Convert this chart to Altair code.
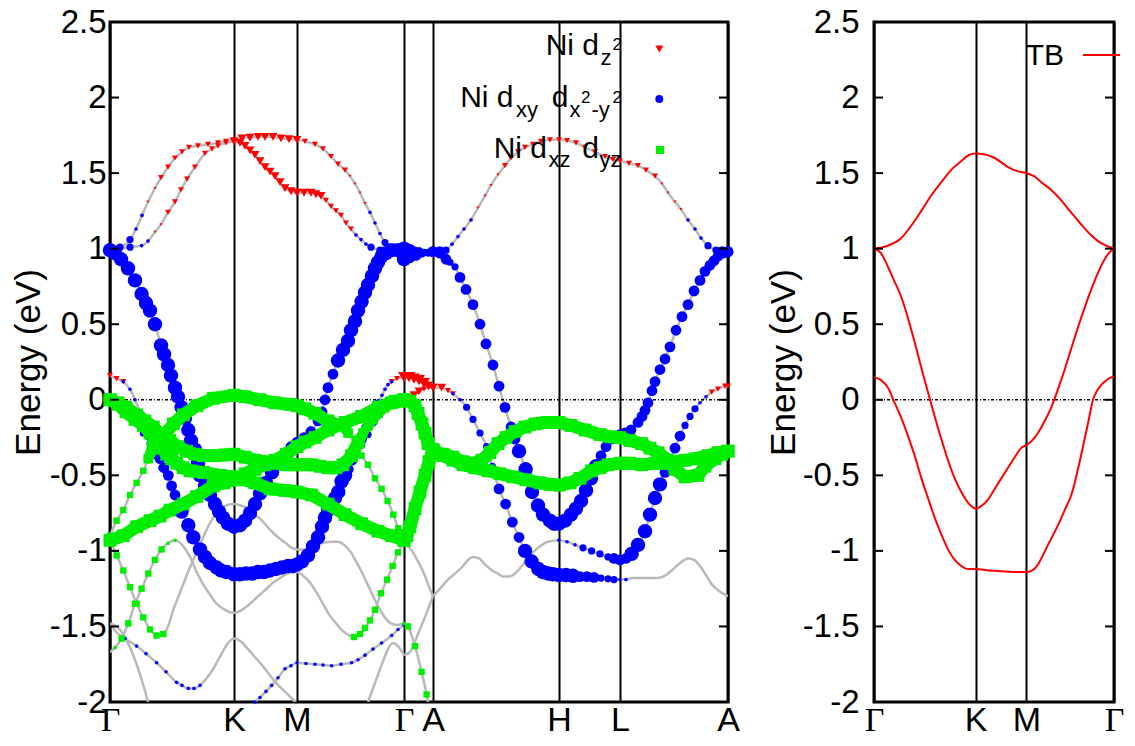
import altair as alt
import pandas as pd

# ---------------- k-path (left: DFT fat bands, right: TB) ----------------
KPATH_LEFT = [0, 124, 187, 294, 323, 449, 510, 618]
KLAB_LEFT = ['Γ', 'K', 'M', 'Γ', 'A', 'H', 'L', 'A']
KPATH_RIGHT = [0, 101.7, 152.4, 240]
KLAB_RIGHT = ['Γ', 'K', 'M', 'Γ']
YTICKS = [-2, -1.5, -1, -0.5, 0, 0.5, 1, 1.5, 2, 2.5]

# ---------------- DFT bands: (k, E, w_dz2, w_dxy, w_dxz/yz) ----------------
U1 = [(0, 1.00, 0, 2, 0), (10, 1.01, 0, 2, 0), (20, 1.06, 0, 2, 0), (26, 1.13, 0, 1, 0), (32, 1.22, 1, 1, 0),
      (38, 1.31, 1, 0, 0), (45, 1.40, 1, 0, 0), (51, 1.47, 2, 0, 0), (58, 1.54, 2, 0, 0), (65, 1.60, 2, 0, 0),
      (72, 1.64, 2, 0, 0), (79, 1.67, 2, 0, 0), (88, 1.68, 2, 0, 0), (98, 1.69, 2, 0, 0), (108, 1.70, 2, 0, 0),
      (116, 1.71, 2, 0, 0), (124, 1.72, 2, 0, 0), (132, 1.73, 3, 0, 0), (140, 1.735, 3, 0, 0), (148, 1.74, 3, 0, 0),
      (155, 1.74, 3, 0, 0), (163, 1.74, 3, 0, 0), (171, 1.73, 3, 0, 0), (179, 1.725, 3, 0, 0), (187, 1.72, 3, 0, 0),
      (195, 1.71, 2, 0, 0), (205, 1.69, 2, 0, 0), (213, 1.66, 2, 0, 0), (221, 1.61, 2, 0, 0), (228, 1.56, 2, 0, 0),
      (235, 1.52, 2, 0, 0), (240, 1.48, 1, 0, 0), (245, 1.43, 1, 0, 0), (250, 1.37, 1, 0, 0), (255, 1.30, 1, 0, 0),
      (260, 1.24, 0, 1, 0), (265, 1.17, 0, 1, 0), (270, 1.10, 0, 1, 0), (275, 1.04, 0, 2, 0), (285, 0.99, 0, 2, 0),
      (294, 0.99, 0, 3, 0)]
U2 = [(0, 1.00, 0, 3, 0), (8, 1.00, 0, 2, 0), (20, 1.01, 0, 2, 0), (31.6, 1.02, 0, 1, 0), (38, 1.05, 1, 1, 0),
      (45, 1.11, 1, 0, 0), (51, 1.16, 1, 0, 0), (58, 1.24, 2, 0, 0), (65, 1.31, 2, 0, 0), (71, 1.39, 2, 0, 0),
      (77, 1.46, 2, 0, 0), (85, 1.54, 2, 0, 0), (95, 1.63, 2, 0, 0), (102, 1.66, 2, 0, 0), (108, 1.68, 2, 0, 0),
      (116, 1.70, 2, 0, 0), (124, 1.71, 3, 0, 0), (130, 1.70, 3, 0, 0), (135, 1.68, 3, 0, 0), (140, 1.65, 3, 0, 0),
      (145, 1.62, 3, 0, 0), (150, 1.58, 3, 0, 0), (155, 1.54, 3, 0, 0), (160, 1.51, 3, 0, 0), (165, 1.48, 3, 0, 0),
      (170, 1.44, 3, 0, 0), (175, 1.40, 3, 0, 0), (181, 1.38, 3, 0, 0), (187, 1.37, 3, 0, 0), (194, 1.37, 3, 0, 0),
      (201, 1.37, 3, 0, 0), (206, 1.36, 3, 0, 0), (211, 1.35, 3, 0, 0), (216, 1.32, 2, 0, 0), (221, 1.28, 2, 0, 0),
      (226, 1.25, 2, 0, 0), (231, 1.22, 2, 0, 0), (236, 1.17, 2, 0, 0), (241, 1.13, 2, 0, 0), (246, 1.09, 1, 1, 0),
      (251, 1.06, 1, 1, 0), (256, 1.03, 0, 1, 0), (261, 1.01, 0, 2, 0), (270, 0.99, 0, 2, 0), (280, 0.98, 0, 3, 0),
      (294, 0.97, 0, 4, 0)]
BC = [(0, 0.99, 0, 4, 0), (5, 0.97, 0, 4, 0), (11, 0.93, 0, 4, 0), (18, 0.87, 0, 4, 0), (25, 0.79, 0, 4, 0),
      (31.6, 0.70, 0, 4, 0), (36, 0.64, 0, 4, 0), (40, 0.59, 0, 4, 0), (45, 0.50, 0, 4, 0), (51, 0.36, 0, 4, 0),
      (54, 0.30, 0, 4, 0), (58, 0.23, 0, 4, 0), (61, 0.16, 0, 4, 0), (65, 0.08, 0, 4, 0), (68, 0.02, 0, 4, 0),
      (71.6, -0.05, 0, 4, 0), (75, -0.12, 0, 4, 0), (78.3, -0.20, 0, 4, 0), (81, -0.27, 0, 4, 0), (85, -0.33, 0, 4, 0),
      (88, -0.42, 0, 4, 0), (90, -0.50, 0, 4, 0), (95, -0.57, 0, 4, 0), (100, -0.63, 0, 4, 0), (105, -0.69, 0, 4, 0),
      (109, -0.74, 0, 4, 0), (113, -0.78, 0, 4, 0), (118, -0.82, 0, 4, 0), (124, -0.84, 0, 4, 0), (130, -0.83, 0, 4, 0),
      (135, -0.80, 0, 4, 0), (140, -0.75, 0, 4, 0), (145, -0.69, 0, 4, 0), (150, -0.62, 0, 4, 0), (156, -0.55, 0, 4, 0),
      (162, -0.48, 0, 4, 0), (168, -0.41, 0, 4, 0), (175, -0.35, 0, 3, 0), (181, -0.31, 0, 3, 0), (187, -0.28, 0, 3, 0),
      (194, -0.25, 0, 3, 0), (201, -0.21, 0, 3, 0), (208, -0.14, 0, 3, 0), (212, -0.08, 0, 3, 0), (215, 0.00, 0, 3, 0),
      (218, 0.08, 0, 3, 0), (223, 0.17, 0, 3, 0), (228, 0.26, 0, 4, 0), (233, 0.33, 0, 4, 0), (238, 0.39, 0, 4, 0),
      (241, 0.46, 0, 4, 0), (245, 0.52, 0, 4, 0), (248, 0.59, 0, 4, 0), (251.6, 0.65, 0, 4, 0), (255, 0.71, 0, 4, 0),
      (258, 0.76, 0, 4, 0), (262, 0.82, 0, 4, 0), (265, 0.87, 0, 4, 0), (268, 0.91, 0, 4, 0), (271.6, 0.95, 0, 4, 0),
      (276, 0.97, 0, 4, 0), (281.6, 0.99, 0, 4, 0), (288, 0.99, 0, 4, 0), (294, 1.00, 0, 4, 0)]
BD = [(0, 0.16, 2, 0, 0), (6.6, 0.14, 2, 0, 0), (13.3, 0.12, 2, 1, 0), (20, 0.07, 1, 1, 0), (25, 0.00, 0, 1, 0),
      (31.6, -0.10, 0, 2, 0), (36.6, -0.17, 0, 2, 0), (40, -0.24, 0, 3, 0), (45, -0.31, 0, 3, 0), (50, -0.39, 0, 3, 0),
      (54, -0.45, 0, 3, 0), (58.3, -0.50, 0, 3, 0), (61.6, -0.57, 0, 3, 0), (65, -0.63, 0, 3, 0), (71.6, -0.74, 0, 4, 0),
      (78.3, -0.83, 0, 4, 0), (83.3, -0.91, 0, 4, 0), (90, -0.99, 0, 4, 0), (95, -1.04, 0, 4, 0), (100, -1.08, 0, 4, 0),
      (106.6, -1.11, 0, 4, 0), (111, -1.13, 0, 4, 0), (116.6, -1.14, 0, 4, 0), (124, -1.155, 0, 4, 0),
      (130, -1.155, 0, 4, 0), (136, -1.15, 0, 4, 0), (142, -1.15, 0, 4, 0), (148, -1.14, 0, 4, 0), (154, -1.14, 0, 4, 0),
      (160, -1.13, 0, 4, 0), (166, -1.12, 0, 4, 0), (172, -1.11, 0, 4, 0), (178, -1.10, 0, 4, 0), (183, -1.10, 0, 4, 0),
      (187, -1.09, 0, 4, 0), (192, -1.07, 0, 4, 0), (198, -1.03, 0, 4, 0), (203, -0.97, 0, 4, 0), (208, -0.91, 0, 4, 0),
      (212, -0.84, 0, 4, 0), (215, -0.78, 0, 4, 0), (218, -0.73, 0, 4, 0), (221.6, -0.69, 0, 4, 0), (225, -0.65, 0, 4, 0),
      (228.3, -0.61, 0, 4, 0), (231.6, -0.54, 0, 4, 0), (235, -0.50, 0, 4, 0), (238.3, -0.46, 0, 3, 0),
      (242, -0.40, 0, 3, 0), (245, -0.35, 0, 3, 0), (248, -0.30, 0, 3, 0), (251.6, -0.26, 0, 3, 0), (255, -0.18, 0, 2, 0),
      (258, -0.14, 0, 2, 0), (261.6, -0.11, 0, 2, 0), (265, -0.06, 0, 2, 0), (268.3, -0.02, 0, 2, 0), (272, 0.03, 1, 1, 0),
      (275, 0.07, 1, 1, 0), (278, 0.10, 1, 1, 0), (281.6, 0.12, 2, 1, 0), (287, 0.14, 2, 0, 0), (294, 0.15, 3, 0, 0)]
BDA = [(0, -0.03, 2, 0, 0), (6.6, -0.05, 2, 0, 0), (13.3, -0.07, 2, 0, 0), (20, -0.11, 1, 1, 0), (26.6, -0.16, 0, 1, 0),
       (33.3, -0.22, 0, 2, 0), (40, -0.29, 0, 2, 0), (46, -0.37, 0, 2, 0), (52, -0.45, 0, 2, 0), (58.3, -0.50, 0, 0, 0)]
BDB = [(245, -0.35, 0, 0, 0), (251.6, -0.30, 0, 2, 0), (258, -0.23, 0, 2, 0), (265, -0.16, 0, 1, 0),
       (271, -0.11, 1, 1, 0), (278, -0.07, 2, 0, 0), (285, -0.04, 2, 0, 0), (294, -0.03, 2, 0, 0)]
GC = [(0, -0.90, 0, 0, 2), (6.6, -0.80, 0, 0, 2), (13.3, -0.73, 0, 0, 2), (20, -0.63, 0, 0, 2), (26.6, -0.55, 0, 0, 2),
      (33.3, -0.47, 0, 0, 2), (38.3, -0.39, 0, 0, 3), (43.3, -0.31, 0, 0, 4), (53.3, -0.24, 0, 0, 4),
      (63.3, -0.16, 0, 0, 4), (73.3, -0.10, 0, 0, 4), (86.6, -0.04, 0, 0, 4), (103.3, 0.01, 0, 0, 4),
      (124, 0.03, 0, 0, 4), (135, 0.02, 0, 0, 4), (150, 0.00, 0, 0, 4), (165, -0.02, 0, 0, 4), (180, -0.03, 0, 0, 4),
      (187, -0.04, 0, 0, 4), (195, -0.06, 0, 0, 4), (205, -0.09, 0, 0, 4), (218, -0.14, 0, 0, 4), (231.6, -0.17, 0, 0, 3),
      (238, -0.22, 0, 0, 3), (245, -0.30, 0, 0, 2), (251.6, -0.37, 0, 0, 2), (258, -0.43, 0, 0, 2), (265, -0.52, 0, 0, 2),
      (271.6, -0.59, 0, 0, 2), (277.6, -0.67, 0, 0, 2), (283.3, -0.76, 0, 0, 2), (288.3, -0.85, 0, 0, 2),
      (294, -0.92, 0, 0, 2)]
GA = [(0, 0.00, 0, 0, 4), (8, -0.02, 0, 0, 4), (16, -0.05, 0, 0, 4), (26.6, -0.10, 0, 0, 4), (35, -0.14, 0, 0, 4),
      (43.3, -0.18, 0, 0, 4), (51, -0.23, 0, 0, 4), (60, -0.27, 0, 0, 4), (68, -0.31, 0, 0, 4), (76.6, -0.34, 0, 0, 4),
      (85, -0.36, 0, 0, 4), (93.3, -0.37, 0, 0, 4), (105, -0.37, 0, 0, 4), (115, -0.365, 0, 0, 4), (124, -0.36, 0, 0, 4),
      (135, -0.38, 0, 0, 4), (145, -0.40, 0, 0, 4), (155, -0.41, 0, 0, 4), (165, -0.42, 0, 0, 4), (176, -0.43, 0, 0, 4),
      (187, -0.43, 0, 0, 4), (201.6, -0.43, 0, 0, 4), (210, -0.44, 0, 0, 4), (218, -0.45, 0, 0, 4), (226, -0.45, 0, 0, 4),
      (233, -0.43, 0, 0, 4), (241.6, -0.37, 0, 0, 4), (248.3, -0.28, 0, 0, 4), (253, -0.22, 0, 0, 3),
      (258.3, -0.17, 0, 0, 3), (263, -0.13, 0, 0, 3), (268, -0.09, 0, 0, 3), (275, -0.05, 0, 0, 3),
      (281.6, -0.02, 0, 0, 4), (288, -0.01, 0, 0, 4), (294, 0.00, 0, 0, 4)]
GB = [(0, 0.00, 0, 0, 4), (8, -0.03, 0, 0, 4), (16, -0.08, 0, 0, 4), (25, -0.13, 0, 0, 4), (33.3, -0.17, 0, 0, 4),
      (40, -0.22, 0, 0, 4), (46.6, -0.27, 0, 0, 4), (51.6, -0.32, 0, 0, 4), (56.6, -0.36, 0, 0, 4), (61.6, -0.39, 0, 0, 4),
      (66.6, -0.42, 0, 0, 4), (73.3, -0.45, 0, 0, 4), (80, -0.47, 0, 0, 4), (93.3, -0.48, 0, 0, 4), (110, -0.50, 0, 0, 4),
      (124, -0.51, 0, 0, 4), (135, -0.53, 0, 0, 4), (145, -0.55, 0, 0, 4), (160, -0.59, 0, 0, 4), (175, -0.60, 0, 0, 4),
      (187, -0.61, 0, 0, 4), (201.6, -0.63, 0, 0, 4), (218, -0.69, 0, 0, 4), (235, -0.76, 0, 0, 4),
      (251.6, -0.82, 0, 0, 4), (268, -0.87, 0, 0, 4), (281.6, -0.90, 0, 0, 4), (294, -0.93, 0, 0, 4)]
GD = [(0, -0.93, 0, 0, 4), (13.3, -0.90, 0, 0, 4), (26.6, -0.84, 0, 0, 4), (40, -0.80, 0, 0, 4), (50, -0.77, 0, 0, 4),
      (60, -0.73, 0, 0, 4), (73.3, -0.69, 0, 0, 4), (86.6, -0.64, 0, 0, 4), (103.3, -0.57, 0, 0, 4),
      (114, -0.55, 0, 0, 4), (124, -0.53, 0, 0, 4), (135, -0.49, 0, 0, 4), (145, -0.46, 0, 0, 4), (155, -0.43, 0, 0, 4),
      (165, -0.40, 0, 0, 4), (176.6, -0.36, 0, 0, 4), (187, -0.31, 0, 0, 4), (195, -0.28, 0, 0, 4), (205, -0.25, 0, 0, 4),
      (218, -0.20, 0, 0, 4), (235, -0.15, 0, 0, 4), (251.6, -0.11, 0, 0, 4), (268.3, -0.05, 0, 0, 4),
      (285, -0.01, 0, 0, 4), (294, 0.00, 0, 0, 4)]
LB1 = [(0, -0.93, 0, 0, 0), (6.6, -1.03, 0, 0, 2), (13.3, -1.13, 0, 0, 2), (20, -1.24, 0, 0, 2), (26.6, -1.35, 0, 0, 2),
       (33.3, -1.44, 0, 0, 2), (40, -1.52, 0, 0, 2), (46.6, -1.56, 0, 0, 2), (53.3, -1.55, 0, 0, 2), (58, -1.50, 0, 0, 0),
       (63.3, -1.39, 0, 0, 0), (68, -1.31, 0, 0, 0), (73.3, -1.22, 0, 0, 0), (78, -1.14, 0, 0, 0), (83.3, -1.06, 0, 0, 0),
       (88, -0.98, 0, 0, 0), (93.3, -0.91, 0, 0, 0), (98, -0.84, 0, 0, 0), (103.3, -0.78, 0, 0, 0), (108, -0.74, 0, 0, 0),
       (113.3, -0.71, 0, 0, 0), (118, -0.695, 0, 0, 0), (124, -0.69, 0, 0, 0), (131, -0.70, 0, 0, 0),
       (138, -0.72, 0, 0, 0), (145, -0.76, 0, 0, 0), (152, -0.80, 0, 0, 0), (160, -0.86, 0, 0, 0), (168, -0.91, 0, 0, 0),
       (176, -0.95, 0, 0, 0), (182, -0.98, 0, 0, 0), (187, -0.99, 0, 0, 0), (194, -0.99, 0, 0, 0), (201, -0.98, 0, 0, 0),
       (208, -0.96, 0, 0, 0), (215, -0.945, 0, 0, 0), (222, -0.94, 0, 0, 0), (228, -0.94, 0, 0, 0), (234, -0.96, 0, 0, 0),
       (241, -1.01, 0, 0, 0), (246, -1.07, 0, 0, 0), (251, -1.13, 0, 0, 0), (256, -1.20, 0, 0, 0), (261, -1.27, 0, 0, 0),
       (266, -1.34, 0, 0, 0), (271, -1.40, 0, 0, 0), (276, -1.45, 0, 0, 0), (281, -1.48, 0, 0, 0), (287, -1.49, 0, 0, 0),
       (294, -1.48, 0, 0, 0)]
LB2 = [(0, -1.67, 0, 0, 0), (5, -1.64, 0, 0, 1), (11.6, -1.58, 0, 0, 2), (18.3, -1.48, 0, 0, 2), (25, -1.35, 0, 0, 2),
       (31.6, -1.25, 0, 0, 2), (38.3, -1.15, 0, 0, 2), (45, -1.06, 0, 0, 2), (51.6, -0.99, 0, 0, 2), (58, -0.95, 0, 0, 1),
       (65, -0.93, 0, 0, 1), (72, -0.96, 0, 0, 0), (80, -1.04, 0, 0, 0), (86, -1.13, 0, 0, 0), (93, -1.22, 0, 0, 0),
       (100, -1.29, 0, 0, 0), (106.6, -1.35, 0, 0, 0), (115, -1.39, 0, 0, 0), (124, -1.41, 0, 0, 0),
       (132, -1.39, 0, 0, 0), (140, -1.35, 0, 0, 0), (148, -1.30, 0, 0, 0), (155, -1.26, 0, 0, 0), (163, -1.21, 0, 0, 0),
       (170, -1.18, 0, 0, 0), (178, -1.15, 0, 0, 0), (187, -1.14, 0, 0, 0), (194, -1.17, 0, 0, 0), (200, -1.21, 0, 0, 0),
       (206, -1.27, 0, 0, 0), (213, -1.35, 0, 0, 0), (219, -1.42, 0, 0, 0), (225, -1.47, 0, 0, 0), (231, -1.52, 0, 0, 0),
       (237, -1.55, 0, 0, 0), (244, -1.57, 0, 0, 2), (250, -1.55, 0, 0, 2), (255, -1.51, 0, 0, 2), (260, -1.46, 0, 0, 2),
       (265, -1.39, 0, 0, 2), (271, -1.28, 0, 0, 2), (277, -1.19, 0, 0, 2), (282.6, -1.10, 0, 0, 2),
       (288, -1.01, 0, 0, 2), (294, -0.95, 0, 0, 2)]
LB3 = [(145, -2.0, 0, 1, 0), (150, -1.97, 0, 1, 0), (156, -1.93, 0, 1, 0), (161.6, -1.89, 0, 1, 0),
       (168, -1.84, 0, 1, 0), (175, -1.78, 0, 1, 0), (181, -1.76, 0, 1, 0), (187, -1.74, 0, 1, 0), (196, -1.745, 0, 1, 0),
       (205, -1.75, 0, 1, 0), (213, -1.755, 0, 1, 0), (221.6, -1.76, 0, 1, 0), (231, -1.75, 0, 1, 0),
       (241.6, -1.74, 0, 1, 0), (248, -1.72, 0, 1, 0), (255, -1.69, 0, 1, 0), (263, -1.65, 0, 1, 0),
       (271.6, -1.61, 0, 1, 0), (281.6, -1.56, 0, 1, 0), (288, -1.52, 0, 1, 0), (294, -1.49, 0, 1, 0)]
LB4 = [(0, -1.48, 0, 0, 0), (6.6, -1.54, 0, 0, 0), (15, -1.58, 0, 1, 0), (26.6, -1.63, 0, 1, 0), (36, -1.68, 0, 1, 0),
       (46.6, -1.74, 0, 1, 0), (56, -1.80, 0, 1, 0), (66.6, -1.87, 0, 1, 0), (72, -1.89, 0, 1, 0), (78.3, -1.91, 0, 1, 0),
       (84, -1.91, 0, 1, 0), (90, -1.89, 0, 1, 0), (97, -1.84, 0, 0, 0), (103.3, -1.78, 0, 0, 0), (110, -1.70, 0, 0, 0),
       (118, -1.61, 0, 0, 0), (124, -1.58, 0, 0, 0), (131, -1.60, 0, 0, 0), (138, -1.65, 0, 0, 0), (146, -1.71, 0, 0, 0),
       (155, -1.78, 0, 0, 0), (163, -1.85, 0, 0, 0), (171.6, -1.91, 0, 0, 0), (178, -1.95, 0, 0, 0),
       (184, -1.99, 0, 0, 0), (186, -2.0, 0, 0, 0)]
LB5 = [(0, -1.48, 0, 0, 0), (6.6, -1.50, 0, 0, 0), (13, -1.55, 0, 0, 0), (20, -1.64, 0, 0, 0), (26.6, -1.75, 0, 0, 0),
       (32, -1.86, 0, 0, 0), (36, -1.95, 0, 0, 0), (38, -2.0, 0, 0, 0)]
LB7 = [(258, -2.0, 0, 0, 0), (263, -1.91, 0, 0, 0), (268, -1.82, 0, 0, 0), (273, -1.73, 0, 0, 0), (278, -1.65, 0, 0, 0),
       (283, -1.61, 0, 0, 0), (288, -1.63, 0, 0, 0), (294, -1.69, 0, 0, 0)]
# Gamma - A
GA1 = [(294, 0.15, 4, 0, 0), (299, 0.15, 4, 0, 0), (304, 0.14, 4, 0, 0), (309, 0.13, 4, 0, 0), (314, 0.11, 4, 0, 0),
       (318.5, 0.095, 3, 0, 0), (323, 0.08, 3, 0, 0)]
GA2 = [(294, -0.03, 3, 0, 0), (299, 0.00, 3, 0, 0), (304, 0.03, 3, 0, 0), (309, 0.055, 3, 0, 0), (314, 0.07, 2, 0, 0),
       (318.5, 0.08, 2, 0, 0), (323, 0.08, 2, 0, 0)]
GA3 = [(294, 0.00, 0, 0, 4), (300, -0.01, 0, 0, 4), (305, -0.04, 0, 0, 4), (308, -0.09, 0, 0, 4), (312, -0.16, 0, 0, 4),
       (315, -0.22, 0, 0, 4), (318, -0.29, 0, 0, 4), (323, -0.33, 0, 0, 4)]
GA4 = [(294, -0.93, 0, 0, 4), (297, -0.90, 0, 0, 4), (300, -0.84, 0, 0, 4), (305, -0.72, 0, 0, 4), (310, -0.61, 0, 0, 4),
       (315, -0.50, 0, 0, 4), (319, -0.41, 0, 0, 4), (323, -0.33, 0, 0, 4)]
GA5 = [(294, 0.99, 0, 4, 0), (299, 0.985, 0, 4, 0), (304, 0.98, 0, 3, 0), (309, 0.975, 0, 3, 0), (314, 0.975, 0, 2, 0),
       (318.5, 0.975, 0, 2, 0), (323, 0.975, 0, 2, 0)]
GA5B = [(294, 0.93, 0, 4, 0), (300, 0.94, 0, 3, 0), (306, 0.955, 0, 3, 0), (312, 0.965, 0, 2, 0), (318, 0.97, 0, 2, 0),
        (323, 0.975, 0, 2, 0)]
GA6 = [(294, -0.95, 0, 0, 0), (302, -1.00, 0, 0, 0), (308, -1.07, 0, 0, 0), (314, -1.15, 0, 0, 0),
       (318, -1.22, 0, 0, 0), (323, -1.30, 0, 0, 0)]
GA7 = [(294, -1.48, 0, 0, 1), (298, -1.50, 0, 0, 2), (305, -1.63, 0, 0, 2), (311.6, -1.80, 0, 0, 2),
       (316.6, -1.95, 0, 0, 2), (318, -2.0, 0, 0, 0)]
GA8 = [(294, -1.69, 0, 0, 0), (300, -1.67, 0, 0, 0), (308, -1.55, 0, 0, 0), (316, -1.42, 0, 0, 0), (323, -1.30, 0, 0, 0)]
# A - H - L - A
UA = [(323, 0.98, 0, 3, 0), (330, 0.98, 0, 3, 0), (336, 0.99, 0, 2, 0), (342, 1.03, 0, 1, 0), (348, 1.08, 0, 1, 0),
      (354, 1.13, 0, 1, 0), (361, 1.19, 1, 1, 0), (368, 1.27, 1, 0, 0), (375, 1.35, 1, 0, 0), (381, 1.42, 1, 0, 0),
      (388, 1.49, 1, 0, 0), (395, 1.55, 2, 0, 0), (401, 1.60, 2, 0, 0), (408, 1.64, 2, 0, 0), (415, 1.67, 2, 0, 0),
      (423, 1.69, 2, 0, 0), (431, 1.71, 2, 0, 0), (440, 1.72, 2, 0, 0), (449, 1.72, 2, 0, 0), (457, 1.715, 2, 0, 0),
      (466, 1.70, 2, 0, 0), (475, 1.67, 2, 0, 0), (485, 1.64, 2, 0, 0), (495, 1.61, 2, 0, 0), (503, 1.59, 2, 0, 0),
      (510, 1.58, 2, 0, 0), (519, 1.565, 2, 0, 0), (528, 1.55, 2, 0, 0), (536, 1.52, 2, 0, 0), (545, 1.48, 2, 0, 0),
      (552, 1.43, 1, 0, 0), (558, 1.37, 1, 0, 0), (565, 1.31, 1, 0, 0), (571, 1.26, 1, 0, 0), (578, 1.19, 1, 1, 0),
      (585, 1.13, 0, 1, 0), (591, 1.07, 0, 1, 0), (598, 1.02, 0, 2, 0), (606, 0.99, 0, 2, 0), (612, 0.98, 0, 3, 0),
      (618, 0.98, 0, 3, 0)]
M2 = [(323, 0.98, 0, 3, 0), (330, 0.97, 0, 3, 0), (336, 0.93, 0, 3, 0), (340, 0.91, 0, 2, 0), (345, 0.88, 0, 2, 0),
      (350, 0.81, 0, 3, 0), (356, 0.73, 0, 3, 0), (363, 0.63, 0, 3, 0), (370, 0.50, 0, 3, 0), (376, 0.37, 0, 3, 0),
      (383, 0.23, 0, 3, 0), (389, 0.09, 0, 3, 0), (395, -0.05, 0, 3, 0), (401, -0.18, 0, 3, 0), (405, -0.26, 0, 3, 0),
      (409, -0.34, 0, 4, 0), (415.6, -0.46, 0, 4, 0), (422, -0.61, 0, 4, 0), (428, -0.70, 0, 4, 0),
      (433, -0.76, 0, 4, 0), (440, -0.80, 0, 4, 0), (444, -0.82, 0, 4, 0), (449, -0.82, 0, 4, 0), (455, -0.80, 0, 4, 0),
      (461, -0.76, 0, 4, 0), (466, -0.72, 0, 4, 0), (471, -0.67, 0, 4, 0), (476, -0.60, 0, 4, 0), (481, -0.52, 0, 4, 0),
      (486, -0.44, 0, 4, 0), (491, -0.37, 0, 3, 0), (496, -0.31, 0, 3, 0), (501, -0.26, 0, 3, 0), (505, -0.24, 0, 3, 0),
      (510, -0.23, 0, 3, 0), (515, -0.22, 0, 3, 0), (521, -0.20, 0, 3, 0), (528, -0.15, 0, 3, 0), (532, -0.11, 0, 3, 0),
      (535, -0.07, 0, 3, 0), (538, -0.02, 0, 3, 0), (542, 0.06, 0, 3, 0), (545, 0.12, 0, 3, 0), (550, 0.20, 0, 3, 0),
      (555, 0.27, 0, 3, 0), (560, 0.35, 0, 3, 0), (566, 0.46, 0, 3, 0), (572, 0.55, 0, 3, 0), (578, 0.63, 0, 3, 0),
      (584, 0.72, 0, 3, 0), (590, 0.79, 0, 3, 0), (595, 0.85, 0, 3, 0), (600, 0.89, 0, 3, 0), (604, 0.92, 0, 3, 0),
      (608, 0.95, 0, 3, 0), (613, 0.97, 0, 3, 0), (618, 0.98, 0, 3, 0)]
BP = [(323, 0.08, 3, 0, 0), (331.6, 0.08, 3, 0, 0), (338, 0.06, 2, 0, 0), (343, 0.04, 2, 1, 0), (350, 0.00, 1, 1, 0),
      (356.6, -0.05, 0, 2, 0), (363, -0.13, 0, 2, 0), (370, -0.22, 0, 2, 0), (376.6, -0.31, 0, 2, 0),
      (382.3, -0.44, 0, 2, 0), (389, -0.59, 0, 3, 0), (395.6, -0.69, 0, 3, 0), (402.3, -0.81, 0, 3, 0),
      (409, -0.91, 0, 3, 0), (415, -1.00, 0, 4, 0), (421.6, -1.07, 0, 4, 0), (428.3, -1.12, 0, 4, 0),
      (433, -1.14, 0, 4, 0), (438.3, -1.15, 0, 4, 0), (443, -1.155, 0, 4, 0), (449, -1.16, 0, 4, 0),
      (456, -1.16, 0, 4, 0), (463, -1.165, 0, 4, 0), (470, -1.17, 0, 3, 0), (477, -1.17, 0, 3, 0),
      (484, -1.175, 0, 3, 0), (491, -1.18, 0, 2, 0), (498, -1.185, 0, 2, 0), (504, -1.19, 0, 2, 0), (510, -1.19, 0, 1, 0),
      (516, -1.19, 0, 1, 0), (521.6, -1.18, 0, 0, 0), (535, -1.18, 0, 0, 0), (548, -1.18, 0, 0, 0),
      (556, -1.16, 0, 0, 0), (561.6, -1.13, 0, 0, 0), (570, -1.08, 0, 0, 0), (578.3, -1.05, 0, 0, 0),
      (584, -1.06, 0, 0, 0), (590, -1.10, 0, 0, 0), (596, -1.16, 0, 0, 0), (601.6, -1.22, 0, 0, 0),
      (608, -1.26, 0, 0, 0), (615, -1.29, 0, 0, 0), (618, -1.30, 0, 0, 0)]
BQ = [(323, -1.30, 0, 0, 0), (330, -1.25, 0, 0, 0), (338, -1.19, 0, 0, 0), (345, -1.15, 0, 0, 0), (351.6, -1.11, 0, 0, 0),
      (358, -1.06, 0, 0, 0), (363, -1.04, 0, 0, 0), (369, -1.05, 0, 0, 0), (375, -1.09, 0, 0, 0), (382, -1.13, 0, 0, 0),
      (388, -1.15, 0, 0, 0), (393, -1.17, 0, 0, 0), (398, -1.17, 0, 0, 0), (403, -1.16, 0, 0, 0), (408, -1.13, 0, 0, 0),
      (413, -1.09, 0, 0, 0), (418, -1.05, 0, 0, 0), (423, -1.01, 0, 0, 0), (428, -0.98, 0, 0, 0), (438, -0.94, 0, 0, 0),
      (449, -0.93, 0, 1, 0), (457, -0.94, 0, 1, 0), (465, -0.96, 0, 1, 0), (473, -0.98, 0, 2, 0), (481.6, -1.00, 0, 2, 0),
      (490, -1.02, 0, 2, 0), (498, -1.04, 0, 2, 0), (504, -1.05, 0, 3, 0), (510, -1.06, 0, 3, 0), (516, -1.05, 0, 3, 0),
      (521.6, -1.02, 0, 4, 0), (528, -0.96, 0, 4, 0), (535, -0.87, 0, 4, 0), (540, -0.76, 0, 4, 0), (545, -0.65, 0, 4, 0),
      (550, -0.56, 0, 4, 0), (555, -0.48, 0, 3, 0), (560, -0.40, 0, 3, 0), (565, -0.32, 0, 3, 0), (570, -0.24, 0, 3, 0),
      (575, -0.17, 0, 2, 0), (580, -0.11, 0, 2, 0), (585, -0.06, 0, 2, 0), (590, -0.02, 0, 1, 0), (596, 0.02, 1, 1, 0),
      (601.6, 0.05, 2, 0, 0), (608, 0.07, 2, 0, 0), (615, 0.09, 2, 0, 0), (618, 0.09, 2, 0, 0)]
GH1 = [(323, -0.34, 0, 0, 4), (333, -0.36, 0, 0, 4), (343, -0.38, 0, 0, 4), (353, -0.41, 0, 0, 4), (363, -0.42, 0, 0, 4),
       (372, -0.40, 0, 0, 4), (380, -0.35, 0, 0, 4), (388, -0.29, 0, 0, 4), (396, -0.25, 0, 0, 4), (405, -0.21, 0, 0, 4),
       (415, -0.18, 0, 0, 4), (425, -0.16, 0, 0, 4), (437, -0.15, 0, 0, 4), (449, -0.15, 0, 0, 4), (461, -0.17, 0, 0, 4),
       (475, -0.20, 0, 0, 4), (490, -0.23, 0, 0, 4), (500, -0.245, 0, 0, 4), (510, -0.25, 0, 0, 4),
       (520, -0.27, 0, 0, 4), (531.6, -0.29, 0, 0, 4), (540, -0.32, 0, 0, 4), (548, -0.35, 0, 0, 4),
       (558, -0.40, 0, 0, 4), (565, -0.46, 0, 0, 4), (575, -0.51, 0, 0, 4), (588, -0.50, 0, 0, 4), (595, -0.44, 0, 0, 4),
       (605, -0.39, 0, 0, 4), (612, -0.36, 0, 0, 4), (618, -0.34, 0, 0, 4)]
GH2 = [(323, -0.34, 0, 0, 4), (333, -0.37, 0, 0, 4), (343, -0.40, 0, 0, 4), (353, -0.43, 0, 0, 4), (365, -0.45, 0, 0, 4),
       (378, -0.47, 0, 0, 4), (390, -0.49, 0, 0, 4), (403, -0.51, 0, 0, 4), (416, -0.53, 0, 0, 4), (430, -0.55, 0, 0, 4),
       (440, -0.56, 0, 0, 4), (449, -0.565, 0, 0, 4), (460, -0.55, 0, 0, 4), (470, -0.52, 0, 0, 4),
       (481.6, -0.47, 0, 0, 4), (490, -0.45, 0, 0, 4), (498, -0.43, 0, 0, 4), (510, -0.42, 0, 0, 4),
       (520, -0.42, 0, 0, 4), (531.6, -0.43, 0, 0, 4), (545, -0.42, 0, 0, 4), (556, -0.42, 0, 0, 4),
       (565, -0.41, 0, 0, 4), (575, -0.40, 0, 0, 4), (585, -0.39, 0, 0, 4), (598, -0.37, 0, 0, 4),
       (608, -0.35, 0, 0, 4), (618, -0.34, 0, 0, 4)]

BANDS = {'U1': U1, 'U2': U2, 'BC': BC, 'BD': BD, 'BDA': BDA, 'BDB': BDB, 'GC': GC, 'GA': GA, 'GB': GB,
         'GD': GD, 'LB1': LB1, 'LB2': LB2, 'LB3': LB3, 'LB4': LB4, 'LB5': LB5, 'LB7': LB7,
         'GA1': GA1, 'GA2': GA2, 'GA3': GA3, 'GA4': GA4, 'GA5': GA5, 'GA5B': GA5B, 'GA6': GA6, 'GA7': GA7,
         'GA8': GA8, 'UA': UA, 'M2': M2, 'BP': BP, 'BQ': BQ, 'GH1': GH1, 'GH2': GH2}

# ---------------- TB bands (right panel) ----------------
TB_UP = [(0, 1.00), (14, 1.02), (27.3, 1.07), (37, 1.15), (47.3, 1.25), (57, 1.35), (67.3, 1.44), (77, 1.52),
         (87.3, 1.58), (95, 1.62), (101.7, 1.63), (110, 1.625), (120.7, 1.60), (134, 1.54), (145, 1.51), (152.4, 1.50),
         (160, 1.48), (167.3, 1.44), (177, 1.39), (187.3, 1.32), (197, 1.24), (207.3, 1.16), (217, 1.09), (224, 1.05),
         (232, 1.02), (240, 1.00)]
TB_MID = [(0, 1.00), (7, 0.97), (14, 0.88), (20, 0.79), (27.3, 0.68), (34, 0.54), (40.7, 0.38), (47, 0.22),
          (54, 0.05), (60.7, -0.11), (67.3, -0.26), (74, -0.40), (80.7, -0.52), (87.3, -0.61), (94, -0.68),
          (101.7, -0.72), (108, -0.70), (114, -0.66), (120.7, -0.59), (127.3, -0.52), (134, -0.45), (140.7, -0.38),
          (147, -0.32), (152.4, -0.30), (158, -0.27), (164, -0.22), (170.7, -0.14), (177.3, -0.05), (184, 0.07),
          (190.7, 0.20), (197.3, 0.34), (204, 0.48), (210.7, 0.61), (217.3, 0.73), (224, 0.84), (230.7, 0.93),
          (236, 0.98), (240, 1.00)]
TB_LOW = [(0, 0.15), (7, 0.13), (14, 0.08), (20, -0.01), (27.3, -0.12), (34, -0.24), (40.7, -0.37), (47, -0.51),
          (54, -0.65), (60.7, -0.78), (67.3, -0.89), (74, -0.99), (80.7, -1.06), (87.3, -1.10), (94, -1.12),
          (101.7, -1.12), (115, -1.13), (127.3, -1.135), (140, -1.14), (152.4, -1.14), (158, -1.13), (164, -1.09),
          (167.3, -1.05), (174, -0.96), (184, -0.83), (190.7, -0.73), (197.3, -0.63), (200.7, -0.55), (205, -0.43),
          (210, -0.28), (214.5, -0.14), (219, 0.00), (224, 0.07), (230.7, 0.12), (236, 0.145), (240, 0.15)]

# ---------------- legend texts (left panel) ----------------
LEGEND_TEXT = [
    ('Ni d', 489, 33, 30, 'right'), ('z', 490.5, 43, 22, 'left'), ('2', 502.5, 28, 17, 'left'),
    ('Ni d', 403.5, 84.5, 30, 'right'), ('xy', 406, 95, 22, 'left'), ('d', 458.5, 84.5, 30, 'right'),
    ('x', 459.5, 95, 22, 'left'), ('2', 471, 80.5, 17, 'left'), ('-y', 481.5, 95, 22, 'left'),
    ('2', 502.5, 80.5, 17, 'left'),
    ('Ni d', 437, 135.5, 30, 'right'), ('xz', 438.5, 145, 22, 'left'), ('d', 489, 135.5, 30, 'right'),
    ('yz', 489.5, 145, 22, 'left'),
]
LEGEND_MARK = [('triangle-down', '#ff0000', 549.3, 27), ('circle', '#0000ff', 549.3, 77), ('square', '#00ee00', 550, 128)]

RED, BLUE, GREEN, GRAY = '#ff0000', '#0000ff', '#00ee00', '#b9b9b9'
FONT = 'Liberation Sans'

# ---------------- build tables ----------------
rows = []
for name, pts in BANDS.items():
    for (k, e, wz, wx, wg) in pts:
        rows.append(dict(band=name, k=k, E=e, wz=wz, wx=wx, wg=wg,
                         sz=(wz * 3.0) ** 2, sx=(wx * 3.6) ** 2, sg=(wg * 3.2) ** 2,
                         tw=(wg * 3.2 if wg >= 3 else 0.0)))
df = pd.DataFrame(rows)

tb_rows = []
for name, pts in (('up', TB_UP), ('mid', TB_MID), ('low', TB_LOW)):
    for k, e in pts:
        tb_rows.append(dict(band=name, k=k, E=e))
tbdf = pd.DataFrame(tb_rows)


def xenc(kpos, klab, width):
    gam = [str(k) for k, l in zip(kpos, klab) if l == 'Γ']
    expr = "[" + ",".join("'%s'" % l for l in klab) + "][indexof([" + ",".join(str(k) for k in kpos) + "], datum.value)]"
    test = "indexof([" + ",".join(gam) + "], datum.value) >= 0"
    return alt.X('k:Q', scale=alt.Scale(domain=[0, width], nice=False, zero=False),
                 axis=alt.Axis(values=kpos, labelExpr=expr, grid=True, gridColor='black', gridWidth=2,
                               gridOpacity=1, ticks=False, domain=False, labelFlush=False, labelOverlap=False,
                               labelBound=False, labelFontSize=34, labelPadding=1, labelColor='black',
                               labelFont={'condition': {'test': test, 'value': 'Liberation Serif'}, 'value': FONT},
                               title=None))


def yenc(label_pad, title_pad):
    return alt.Y('E:Q', scale=alt.Scale(domain=[-2, 2.5], nice=False, zero=False),
                 axis=alt.Axis(values=YTICKS, labelExpr='toString(datum.value)', ticks=False, domain=False,
                               grid=False, title='Energy (eV)', titleFontSize=35, titleFontWeight='normal',
                               titleFont=FONT, labelFont=FONT, labelFontSize=33, labelPadding=label_pad,
                               titlePadding=title_pad, labelColor='black', titleColor='black'))


def common_layers(Y, width):
    zero = alt.Chart(pd.DataFrame({'E': [0]})).mark_rule(color='black', strokeWidth=1.5,
                                                         strokeDash=[3, 2, 1, 2]).encode(y=Y)
    tdf = pd.DataFrame({'E': YTICKS[1:-1]})
    tl = alt.Chart(tdf).mark_rule(color='black', strokeWidth=2).encode(
        y=Y, x=alt.value(0), x2=alt.value(9))
    tr = alt.Chart(tdf).mark_rule(color='black', strokeWidth=2).encode(
        y=Y, x=alt.value(width - 9), x2=alt.value(width))
    return zero, tl, tr


# ---------------- left panel ----------------
WL, H = 618, 680
XL = xenc(KPATH_LEFT, KLAB_LEFT, WL)
YL = yenc(4, 2.5)
base = alt.Chart(df)
gray = base.mark_line(color=GRAY, strokeWidth=2.5, interpolate='monotone', clip=True).encode(
    x=XL, y=YL, detail='band:N', order='k:Q')
red = base.transform_filter('datum.wz > 0').mark_point(
    shape='triangle-down', filled=True, color=RED, opacity=1, strokeWidth=0).encode(
    x=XL, y=YL, size=alt.Size('sz:Q', scale=None))
blue = base.transform_filter('datum.wx > 0').mark_circle(color=BLUE, opacity=1).encode(
    x=XL, y=YL, size=alt.Size('sx:Q', scale=None))
gtrail = base.transform_filter('datum.tw > 0').mark_trail(color=GREEN, opacity=1).encode(
    x=XL, y=YL, size=alt.Size('tw:Q', scale=None), detail='band:N', order='k:Q')
gsq = base.transform_filter('datum.wg > 0').mark_square(color=GREEN, opacity=1).encode(
    x=XL, y=YL, size=alt.Size('sg:Q', scale=None))
zeroL, tlL, trL = common_layers(YL, WL)

leg_layers = []
for (t, px, py, fs, al) in LEGEND_TEXT:
    leg_layers.append(alt.Chart(pd.DataFrame({'t': [t]})).mark_text(
        align=al, baseline='alphabetic', font=FONT, fontSize=fs, color='black').encode(
        x=alt.value(px), y=alt.value(py), text='t:N'))
for (shp, col, px, py) in LEGEND_MARK:
    leg_layers.append(alt.Chart(pd.DataFrame({'s': [shp]})).mark_point(
        shape=shp, filled=True, color=col, size=64, opacity=1, strokeWidth=0).encode(
        x=alt.value(px), y=alt.value(py)))

left = alt.layer(gray, zeroL, red, blue, gtrail, gsq, tlL, trL, *leg_layers).properties(width=WL, height=H)

# ---------------- right panel ----------------
WR = 240
XR = xenc(KPATH_RIGHT, KLAB_RIGHT, WR)
YR = yenc(15, 1)
tbl = alt.Chart(tbdf).mark_line(color=RED, strokeWidth=2, interpolate='monotone').encode(
    x=XR, y=YR, detail='band:N', order='k:Q')
zeroR, tlR, trR = common_layers(YR, WR)
tbtext = alt.Chart(pd.DataFrame({'t': ['TB']})).mark_text(
    align='right', baseline='alphabetic', font=FONT, fontSize=30, color='black').encode(
    x=alt.value(190), y=alt.value(43), text='t:N')
tbline = alt.Chart(pd.DataFrame({'t': ['TB']})).mark_rule(color=RED, strokeWidth=2).encode(
    x=alt.value(209), x2=alt.value(246), y=alt.value(33))
right = alt.layer(zeroR, tbl, tlR, trR, tbtext, tbline).properties(width=WR, height=H)

chart = alt.hconcat(left, right, spacing=23).configure_view(
    stroke='black', strokeWidth=3).configure_axis(labelColor='black', titleColor='black').properties(
    padding={'left': 2, 'top': -4, 'right': 0, 'bottom': 0})

chart.save("out.html", embed_options={"renderer": "svg", "actions": False})
